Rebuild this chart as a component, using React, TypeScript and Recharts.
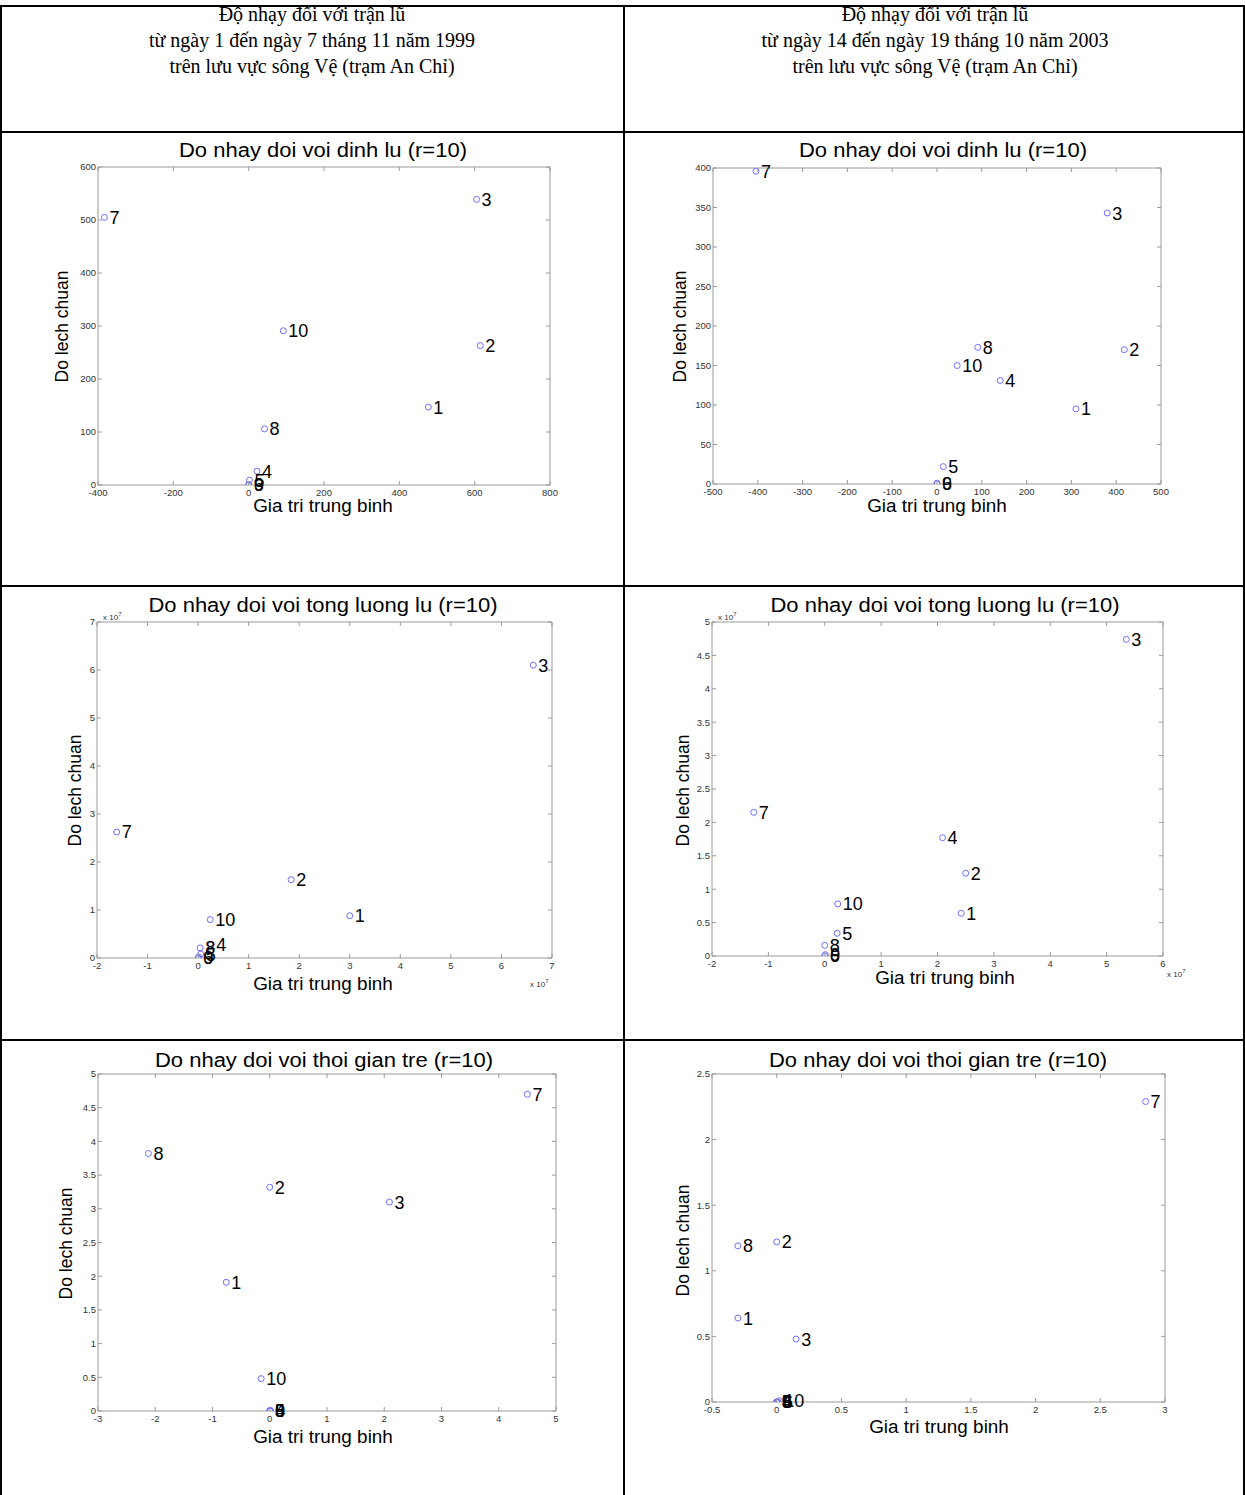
import React from "react";
import { ScatterChart, Scatter, XAxis, YAxis, LabelList } from "recharts";

// ---------- data ----------
const pointIds = ["1", "2", "3", "4", "5", "6", "7", "8", "9", "10"];

const headerLeft = ["Độ nhạy đối với trận lũ", "từ ngày 1 đến ngày 7 tháng 11 năm 1999", "trên lưu vực sông Vệ (trạm An Chỉ)"];
const headerRight = ["Độ nhạy đối với trận lũ", "từ ngày 14 đến ngày 19 tháng 10 năm 2003", "trên lưu vực sông Vệ (trạm An Chỉ)"];

const titlePeak = "Do nhay doi voi dinh lu (r=10)";
const titleVolume = "Do nhay doi voi tong luong lu (r=10)";
const titleLag = "Do nhay doi voi thoi gian tre (r=10)";
const xLabel = "Gia tri trung binh";
const yLabel = "Do lech chuan";

// Peak discharge, 1999
const peak1999X = [477, 615, 605, 22, 2, 0, -383, 42, 0, 92];
const peak1999Y = [147, 263, 539, 26, 9, 0, 505, 106, 1, 291];
const peak1999XTicks = [-400, -200, 0, 200, 400, 600, 800];
const peak1999YTicks = [0, 100, 200, 300, 400, 500, 600];

// Peak discharge, 2003
const peak2003X = [310, 418, 380, 141, 14, 0, -404, 91, 0, 45];
const peak2003Y = [95, 170, 343, 131, 22, 0, 396, 173, 1, 150];
const peak2003XTicks = [-500, -400, -300, -200, -100, 0, 100, 200, 300, 400, 500];
const peak2003YTicks = [0, 50, 100, 150, 200, 250, 300, 350, 400];

// Flood volume, 1999 (units of 10^7)
const vol1999X = [3.0, 1.84, 6.63, 0.26, 0.05, 0, -1.61, 0.04, 0.01, 0.24];
const vol1999Y = [0.88, 1.63, 6.1, 0.28, 0.08, 0, 2.625, 0.21, 0.02, 0.8];
const vol1999XTicks = [-2, -1, 0, 1, 2, 3, 4, 5, 6, 7];
const vol1999YTicks = [0, 1, 2, 3, 4, 5, 6, 7];

// Flood volume, 2003 (units of 10^7)
const vol2003X = [2.42, 2.5, 5.35, 2.09, 0.22, 0, -1.26, 0.0, 0.01, 0.23];
const vol2003Y = [0.64, 1.24, 4.74, 1.77, 0.34, 0, 2.15, 0.16, 0.02, 0.78];
const vol2003XTicks = [-2, -1, 0, 1, 2, 3, 4, 5, 6];
const vol2003YTicks = [0, 0.5, 1, 1.5, 2, 2.5, 3, 3.5, 4, 4.5, 5];

// Lag time, 1999
const lag1999X = [-0.76, 0.0, 2.09, 0.01, 0, 0, 4.5, -2.12, 0.01, -0.15];
const lag1999Y = [1.91, 3.32, 3.1, 0.01, 0, 0, 4.7, 3.82, 0, 0.48];
const lag1999XTicks = [-3, -2, -1, 0, 1, 2, 3, 4, 5];
const lag1999YTicks = [0, 0.5, 1, 1.5, 2, 2.5, 3, 3.5, 4, 4.5, 5];

// Lag time, 2003
const lag2003X = [-0.3, 0.0, 0.15, 0, 0, 0.01, 2.85, -0.3, 0, 0.02];
const lag2003Y = [0.64, 1.22, 0.48, 0, 0, 0, 2.29, 1.19, 0, 0.01];
const lag2003XTicks = [-0.5, 0, 0.5, 1, 1.5, 2, 2.5, 3];
const lag2003YTicks = [0, 0.5, 1, 1.5, 2, 2.5];

// ---------- layout ----------
const SANS = "'Liberation Sans', Arial, Helvetica, sans-serif";
const SERIF = "'Liberation Serif', 'Times New Roman', serif";
const AXIS_COLOR = "#9a9a9a";
const TICK_TEXT = "#333";
const MARKER = "#6f6fff";

type PanelCfg = {
  title: string;
  xs: number[];
  ys: number[];
  xTicks: number[];
  yTicks: number[];
  plot: [number, number, number, number]; // left, top, right, bottom
  titleAt: [number, number];
  xLabelAt: [number, number];
  yLabelAt: [number, number];
  exp?: { top: [number, number]; bottom: [number, number] };
};

const panels: PanelCfg[] = [
  { title: titlePeak, xs: peak1999X, ys: peak1999Y, xTicks: peak1999XTicks, yTicks: peak1999YTicks,
    plot: [98, 167, 550, 485], titleAt: [323, 150], xLabelAt: [323, 506], yLabelAt: [62, 326] },
  { title: titlePeak, xs: peak2003X, ys: peak2003Y, xTicks: peak2003XTicks, yTicks: peak2003YTicks,
    plot: [713, 168, 1161, 484], titleAt: [943, 150], xLabelAt: [937, 506], yLabelAt: [680, 326] },
  { title: titleVolume, xs: vol1999X, ys: vol1999Y, xTicks: vol1999XTicks, yTicks: vol1999YTicks,
    plot: [97, 622, 552, 958], titleAt: [323, 605], xLabelAt: [323, 984], yLabelAt: [75, 790],
    exp: { top: [103, 615], bottom: [530, 982] } },
  { title: titleVolume, xs: vol2003X, ys: vol2003Y, xTicks: vol2003XTicks, yTicks: vol2003YTicks,
    plot: [712, 622, 1163, 956], titleAt: [945, 605], xLabelAt: [945, 978], yLabelAt: [683, 790],
    exp: { top: [718, 615], bottom: [1167, 972] } },
  { title: titleLag, xs: lag1999X, ys: lag1999Y, xTicks: lag1999XTicks, yTicks: lag1999YTicks,
    plot: [98, 1074, 556, 1411], titleAt: [324, 1060], xLabelAt: [323, 1437], yLabelAt: [66, 1243] },
  { title: titleLag, xs: lag2003X, ys: lag2003Y, xTicks: lag2003XTicks, yTicks: lag2003YTicks,
    plot: [712, 1074, 1165, 1402], titleAt: [938, 1060], xLabelAt: [939, 1427], yLabelAt: [683, 1240] },
];

const PAD = { l: 40, r: 40, t: 20, b: 24 };

const BottomTick = (p: any) => (
  <g>
    <line x1={p.x} x2={p.x} y1={p.y} y2={p.y - 4} stroke={AXIS_COLOR} />
    <text x={p.x} y={p.y + 11} textAnchor="middle" fontSize={9.5} fontFamily={SANS} fill={TICK_TEXT}>
      {p.payload.value}
    </text>
  </g>
);
const TopTick = (p: any) => (
  <line x1={p.x} x2={p.x} y1={p.y} y2={p.y + 4} stroke={AXIS_COLOR} />
);
const LeftTick = (p: any) => (
  <g>
    <line x1={p.x} x2={p.x + 4} y1={p.y} y2={p.y} stroke={AXIS_COLOR} />
    <text x={p.x - 2} y={p.y} dy="0.35em" textAnchor="end" fontSize={9.5} fontFamily={SANS} fill={TICK_TEXT}>
      {p.payload.value}
    </text>
  </g>
);
const RightTick = (p: any) => (
  <line x1={p.x} x2={p.x - 4} y1={p.y} y2={p.y} stroke={AXIS_COLOR} />
);

const Marker = (p: any) => (
  <circle cx={p.cx} cy={p.cy} r={3} fill="none" stroke={MARKER} strokeWidth={1} />
);

const PointLabel = (p: any) => {
  const vb = p.viewBox ?? p;
  const cx = vb.x + (vb.width || 0) / 2;
  const cy = vb.y + (vb.height || 0) / 2;
  return (
    <text x={cx + 5} y={cy} dy="0.36em" fontSize={18} fontFamily={SANS} fill="#000">
      {p.value}
    </text>
  );
};

function Panel({ cfg }: { cfg: PanelCfg }) {
  const [l, t, r, b] = cfg.plot;
  const pw = r - l;
  const ph = b - t;
  const data = cfg.xs.map((x, i) => ({ x, y: cfg.ys[i], id: pointIds[i] }));
  const xDom: [number, number] = [cfg.xTicks[0], cfg.xTicks[cfg.xTicks.length - 1]];
  const yDom: [number, number] = [cfg.yTicks[0], cfg.yTicks[cfg.yTicks.length - 1]];
  return (
    <div style={{ position: "absolute", left: l - PAD.l, top: t - PAD.t }}>
      <ScatterChart
        width={pw + PAD.l + PAD.r}
        height={ph + PAD.t + PAD.b}
        margin={{ left: PAD.l - 1, right: PAD.r - 1, top: PAD.t - 1, bottom: PAD.b - 1 }}
      >
        <XAxis xAxisId="b" type="number" dataKey="x" domain={xDom} ticks={cfg.xTicks} allowDataOverflow
          orientation="bottom" height={1} tickSize={0} tickMargin={0} tickLine={false} interval={0}
          axisLine={{ stroke: AXIS_COLOR }} tick={BottomTick} />
        <XAxis xAxisId="t" type="number" dataKey="x" domain={xDom} ticks={cfg.xTicks} allowDataOverflow
          orientation="top" height={1} tickSize={0} tickMargin={0} tickLine={false} interval={0}
          axisLine={{ stroke: AXIS_COLOR }} tick={TopTick} />
        <YAxis yAxisId="l" type="number" dataKey="y" domain={yDom} ticks={cfg.yTicks} allowDataOverflow
          orientation="left" width={1} tickSize={0} tickMargin={0} tickLine={false} interval={0}
          axisLine={{ stroke: AXIS_COLOR }} tick={LeftTick} />
        <YAxis yAxisId="r" type="number" dataKey="y" domain={yDom} ticks={cfg.yTicks} allowDataOverflow
          orientation="right" width={1} tickSize={0} tickMargin={0} tickLine={false} interval={0}
          axisLine={{ stroke: AXIS_COLOR }} tick={RightTick} />
        <Scatter data={data} xAxisId="b" yAxisId="l" shape={Marker} isAnimationActive={false}>
          <LabelList dataKey="id" content={PointLabel} />
        </Scatter>
      </ScatterChart>
    </div>
  );
}

const abs = (s: React.CSSProperties): React.CSSProperties => ({ position: "absolute", ...s });

function CenterText({ x, y, text, size, stretch }: { x: number; y: number; text: string; size: number; stretch: number }) {
  return (
    <div style={abs({ left: x - 300, top: y - size * 0.6, width: 600, textAlign: "center",
      fontFamily: SANS, fontSize: size, lineHeight: `${size * 1.2}px`, color: "#000", whiteSpace: "nowrap",
      transform: `scaleX(${stretch})`, transformOrigin: "50% 50%" })}>
      {text}
    </div>
  );
}

function RotText({ x, y, text, size }: { x: number; y: number; text: string; size: number }) {
  return (
    <div style={abs({ left: x - 150, top: y - size * 0.6, width: 300, textAlign: "center",
      fontFamily: SANS, fontSize: size, lineHeight: `${size * 1.2}px`, color: "#000",
      transform: "rotate(-90deg)", transformOrigin: "50% 50%", whiteSpace: "nowrap" })}>
      {text}
    </div>
  );
}

function Exp({ x, y }: { x: number; y: number }) {
  return (
    <div style={abs({ left: x, top: y - 6, fontFamily: SANS, fontSize: 8, lineHeight: "10px", color: "#333", whiteSpace: "nowrap" })}>
      x 10<sup style={{ fontSize: 6 }}>7</sup>
    </div>
  );
}

const LINE = "#000";

export default function App() {
  return (
    <div style={abs({ left: 0, top: 0, width: 1245, height: 1495, background: "#fff", overflow: "hidden" })}>
      {/* table borders */}
      <div style={abs({ left: 0, top: 5, width: 1245, height: 2, background: LINE })} />
      <div style={abs({ left: 0, top: 131, width: 1245, height: 2, background: LINE })} />
      <div style={abs({ left: 0, top: 585, width: 1245, height: 2, background: LINE })} />
      <div style={abs({ left: 0, top: 1039, width: 1245, height: 2, background: LINE })} />
      <div style={abs({ left: 0, top: 5, width: 2, height: 1490, background: LINE })} />
      <div style={abs({ left: 623, top: 5, width: 2, height: 1490, background: LINE })} />
      <div style={abs({ left: 1243, top: 5, width: 2, height: 1490, background: LINE })} />

      {/* header */}
      {[headerLeft, headerRight].map((lines, ci) => (
        <div key={ci} style={abs({ left: ci === 0 ? 2 : 625, top: 1, width: 620, textAlign: "center",
          fontFamily: SERIF, fontSize: 20, lineHeight: "26px", color: "#000" })}>
          {lines.map((s, i) => <div key={i}>{s}</div>)}
        </div>
      ))}

      {panels.map((cfg, i) => (
        <React.Fragment key={i}>
          <Panel cfg={cfg} />
          <CenterText x={cfg.titleAt[0]} y={cfg.titleAt[1]} text={cfg.title} size={20} stretch={1.1} />
          <CenterText x={cfg.xLabelAt[0]} y={cfg.xLabelAt[1]} text={xLabel} size={17.5} stretch={1.08} />
          <RotText x={cfg.yLabelAt[0]} y={cfg.yLabelAt[1]} text={yLabel} size={17.5} />
          {cfg.exp && <Exp x={cfg.exp.top[0]} y={cfg.exp.top[1]} />}
          {cfg.exp && <Exp x={cfg.exp.bottom[0]} y={cfg.exp.bottom[1]} />}
        </React.Fragment>
      ))}
    </div>
  );
}
